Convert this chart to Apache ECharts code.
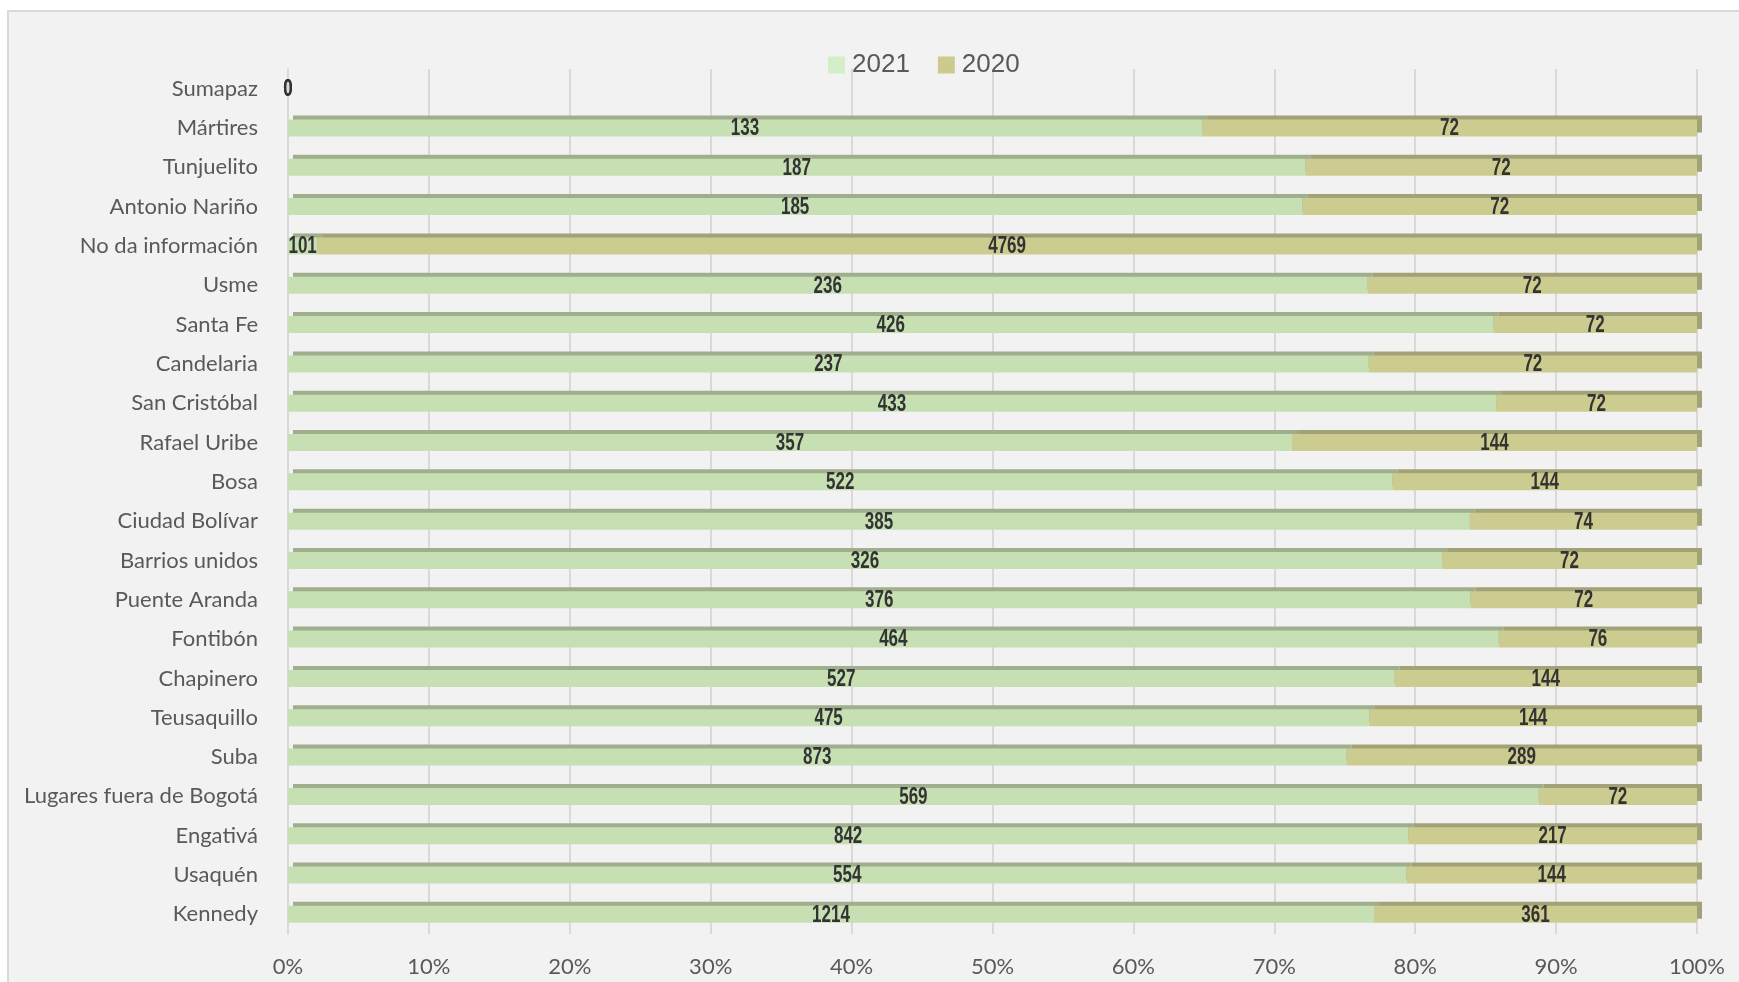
<!DOCTYPE html>
<html>
<head>
<meta charset="utf-8">
<title>Localidades 2021 / 2020</title>
<script src="https://cdn.jsdelivr.net/npm/echarts@6/dist/echarts.min.js"></script>
<style>
  html, body { margin: 0; padding: 0; background: #ffffff; }
  #echarts { width: 1739px; height: 982px; }
</style>
</head>
<body>
<div id="echarts"></div>
<script>
/** 数据 */
var categories = ['Sumapaz', 'Mártires', 'Tunjuelito', 'Antonio Nariño', 'No da información', 'Usme',
  'Santa Fe', 'Candelaria', 'San Cristóbal', 'Rafael Uribe', 'Bosa', 'Ciudad Bolívar', 'Barrios unidos',
  'Puente Aranda', 'Fontibón', 'Chapinero', 'Teusaquillo', 'Suba', 'Lugares fuera de Bogotá',
  'Engativá', 'Usaquén', 'Kennedy']
var values2021 = [0, 133, 187, 185, 101, 236, 426, 237, 433, 357, 522, 385, 326, 376, 464, 527, 475, 873, 569, 842, 554, 1214]
var values2020 = [0, 72, 72, 72, 4769, 72, 72, 72, 72, 144, 144, 74, 72, 72, 76, 144, 144, 289, 72, 217, 144, 361]
var xTicks = [0, 10, 20, 30, 40, 50, 60, 70, 80, 90, 100]

/** 全局变量 */
var myChart
var option
var textFont = 'Lato, "Open Sans", sans-serif'

// 百分比堆叠
var toPercent = function(own, other) {
  return own.map(function(v, i) {
    var total = v + other[i]
    return total === 0 ? 0 : v / total * 100
  })
}
var pct2021 = toPercent(values2021, values2020)
var pct2020 = toPercent(values2020, values2021)

var makeBar = function(name, pct, face, edge) {
  return {
    name: name,
    type: 'bar',
    stack: 'total',
    barWidth: 17,
    data: pct,
    itemStyle: {
      color: face,
      shadowColor: edge,
      shadowBlur: 0,
      shadowOffsetX: 5,
      shadowOffsetY: -4
    }
  }
}

// 数值标签（窄体加粗），用 custom 系列按坐标轴放在每段中间
var labelData = function() {
  var list = []
  for (var i = 0; i < categories.length; i++) {
    list.push([0, pct2021[i], i, values2021[i]])
    list.push([pct2021[i], pct2021[i] + pct2020[i], i, values2020[i]])
  }
  return list
}

var renderLabel = function(params, api) {
  var mid = (api.value(0) + api.value(1)) / 2
  var pt = api.coord([mid, api.value(2)])
  return {
    type: 'text',
    x: pt[0],
    y: pt[1] + 1,
    scaleX: 0.74,
    style: {
      text: String(api.value(3)),
      fill: '#333333',
      font: 'bold 23px "Liberation Sans", Arial, sans-serif',
      align: 'center',
      verticalAlign: 'middle'
    }
  }
}

/** 初始化option */
var initOption = function() {
  option = {
    animation: false,
    backgroundColor: '#ffffff',
    graphic: [{
      type: 'rect',
      z: -10,
      shape: { x: 8, y: 11, width: 1800, height: 1100 },
      style: { fill: '#f2f2f2', stroke: '#d9d9d9', lineWidth: 2 }
    }],
    legend: {
      top: 47,
      left: 823,
      itemWidth: 17,
      itemHeight: 17,
      itemGap: 28,
      textStyle: { fontFamily: '"Liberation Sans", Arial, sans-serif', fontSize: 26, color: '#595959', padding: [0, 0, 0, 2] },
      data: [
        { name: '2021', icon: 'rect', itemStyle: { color: '#d4eec7' } },
        { name: '2020', icon: 'rect', itemStyle: { color: '#cccb8e' } }
      ]
    },
    grid: { left: 288, right: 42, top: 69, bottom: 48 },
    xAxis: {
      type: 'value',
      min: 0,
      max: 100,
      interval: 10,
      axisLine: { show: false },
      axisTick: { show: false },
      splitLine: { show: true, lineStyle: { color: '#d9d9d9', width: 2 } },
      axisLabel: {
        margin: 22,
        color: '#595959',
        fontFamily: textFont,
        fontSize: 22,
        formatter: function(v) { return xTicks.indexOf(v) >= 0 ? v + '%' : '' }
      }
    },
    yAxis: {
      type: 'category',
      inverse: true,
      data: categories,
      axisLine: { show: true, lineStyle: { color: '#d9d9d9', width: 2 } },
      axisTick: { show: false },
      axisLabel: { margin: 30, color: '#595959', fontFamily: textFont, fontSize: 22 }
    },
    series: [
      makeBar('2021', pct2021, '#c6e0b4', '#9fae8c'),
      makeBar('2020', pct2020, '#cdcc90', '#a3a176'),
      {
        type: 'custom',
        name: 'etiquetas',
        z: 5,
        silent: true,
        renderItem: renderLabel,
        encode: { x: [0, 1], y: 2 },
        data: labelData()
      }
    ]
  }
}

/** 初始化图表 */
var initChart = function() {
  myChart = echarts.init(document.getElementById('echarts'))
  myChart.setOption(option)
}

initOption()
initChart()
</script>
</body>
</html>
